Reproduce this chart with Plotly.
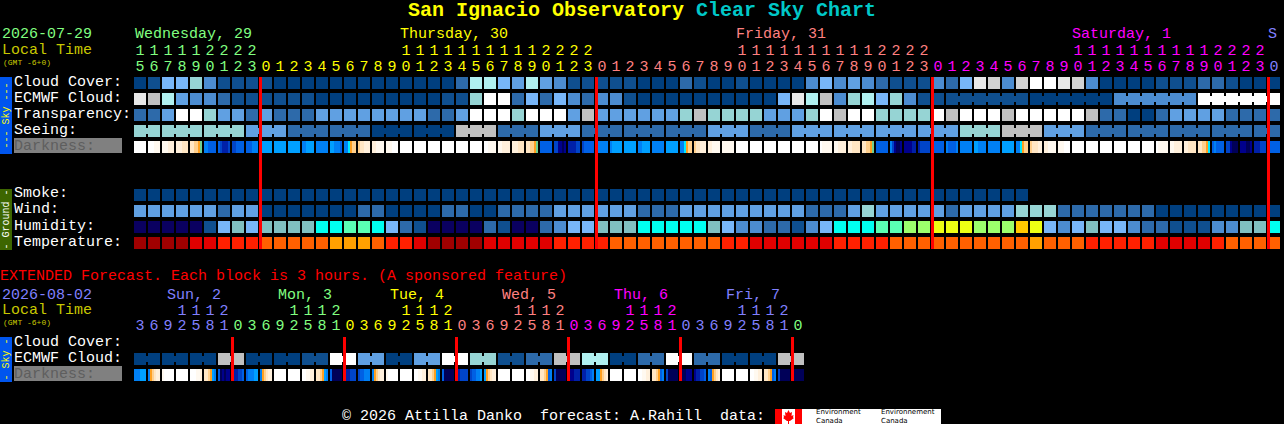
import plotly.graph_objects as go

# ---------- data ----------
SKY_COLORS = ["#003F7F", "#0F4F8F", "#2D6AAA", "#4C8CD0", "#60A0E2", "#78B6F8",
              "#96D4D4", "#B0F0F0", "#C0C0C0", "#D2D2D2", "#E8E8E8", "#FFFFFF"]
HUM_COLORS = ["#0A0060", "#0F4F8F", "#2D6AAA", "#4C8CD0", "#78B6F8", "#80C0C0",
              "#00FFF0", "#5AFFB4", "#9CFF6C", "#EDFF14", "#FFC800"]
TEMP_COLORS = ["#A00000", "#E00000", "#FF2000", "#FF6000", "#FFA000"]
DARK_COLORS = {"W": "#FFFFFF", "a": "#FFF9F0", "b": "#FFF0DC", "c": "#FFE6C4", "d": "#FFCF8C",
               "e": "#FFA020", "g": "#70D090", "t": "#00E8FF", "s": "#00A0FF", "m": "#0080F4",
               "u": "#0060E4", "v": "#0044C8", "x": "#0020A8", "y": "#00008C", "z": "#000058"}

CLOUD = [0, 1, 5, 5, 6, 3, 1, 1, 1, 1,
         0, 0, 0, 0, 0, 0, 0, 0, 0, 0, 0,
         0, 0, 2, 7, 7, 5, 4, 7, 4, 3, 1, 1,
         1, 1, 1, 0, 0, 0, 2, 1, 0, 0, 1, 0, 0, 0, 0, 3, 5, 3, 4,
         3, 2, 1, 1, 1, 3, 2, 5, 10, 9, 3, 9, 11, 11, 10, 9, 3,
         0, 0, 0, 0, 1, 1, 1, 2, 2, 1, 0, 0, 0]
ECMWF = [10, 8, 7, 4, 3, 3, 2, 1, 1, 1, 1, 1, 1,
         0, 0, 0, 0, 0, 0, 0, 0,
         0, 1, 1, 6, 11, 11, 2, 5, 2, 5, 3, 2,
         3, 3, 1, 0, 0, 0, 0, 0, 0, 0, 0, 0, 0, 5, 10, 7, 8, 3, 6,
         7, 5, 6, 3, 1, 1,
         1, 1, 1, 1, 1, 1, 0, 0, 0, 0, 0, 0, 3, 3, 3, 3, 3, 3, 11, 11, 11, 11, 11, 11]
ECMWF_BLOCKS = [1] * 58 + [6, 6, 6, 6]
TRANSPARENCY = [2, 2, 4, 11, 11, 6, 4, 4, 2, 4, 2, 2, 2,
                4, 4, 4, 4, 4, 4, 4, 4,
                2, 2, 4, 11, 11, 11, 6, 11, 11, 11, 4, 8,
                4, 4, 4, 4, 4, 4, 6, 8, 6, 6, 6, 6, 4, 4, 4, 6, 11, 8, 11,
                11, 6, 6, 6, 6, 11, 8, 11, 11, 11, 8, 11, 11, 11, 11, 11, 8,
                2, 2, 0, 0, 2, 4, 4, 4, 4, 2, 2, 2, 2]
SEEING_VALUES = [6, 6, 6, 4, 2, 2, 0, 0, 8, 2, 4, 2, 2, 2, 4, 2, 4, 4, 4, 4, 6, 8, 4, 2, 2, 2, 2, 2]
SEEING_BLOCKS = [2] + [3] * 26 + [2]
DARKNESS = ["WWWWWW", "WWWaaa", "aaabbb", "bbbccc", "ccddeg", "mmuuuu", "uvxxxv", "vvuuuu", "uuummm",
            "ssssss", "ssssss", "ssssss", "mmssss", "mmmmmm", "ssmmmu", "mmtedd", "dccbbb", "bbaaaa",
            "aaaWWW", "WWWWWW", "WWWWWW", "WWWWWW", "WWWWWW", "WWWWWW", "WWWWWW", "WWaaaa", "aabbbb",
            "bbbccc", "ccddeg", "uuuuuu", "vvyyzy", "xxxxvv", "vuuuuu",
            "mmmmmm", "msssss", "ssssss", "mmssss", "mmmmmm", "ssssss", "mmtedd", "dccbbb", "bbaaaa",
            "aaaaaa", "WWWWWW", "WWWWWW", "WWWWWW", "WWWWWW", "WWWWWW", "WWWWWW", "Waaaaa", "aabbbb",
            "bbcccc", "ccddeg", "uuuuuu", "mvyzzy", "yyyyxx", "xvvvvv",
            "uuuuuu", "muuuum", "mmmmmm", "ssmmmm", "mmmmmm", "ssssss", "mmtedd", "dcccbb", "bbaaaa",
            "aaaWWW", "WWWWWW", "WWWWWW", "WWWWWW", "WWWWWW", "WWWWWW", "WWWWWW",
            "Waaaaa", "aabbbb", "bbcccc", "ccddet", "umuuuu", "vvyzzz", "yyyzzy", "xxxvvv", "vuuuuu"]
SMOKE = [0] * 64
WIND = [4, 4, 4, 4, 4, 4, 2, 4, 4, 0, 0, 0, 0, 0, 0, 0, 2, 2, 0, 0, 0, 0,
        2, 2, 0, 0, 2, 2, 2, 2, 4, 4, 4, 4, 4, 4, 2, 2, 2, 4, 4, 4, 4, 4, 4, 4, 4, 4, 2, 2, 2, 4,
        6, 4, 4, 4, 4, 4, 2, 4, 4, 4, 4, 6, 6, 6, 2, 2, 2, 2, 2, 2, 2, 0, 0, 0, 0, 0, 0, 0, 0, 0]
HUMIDITY = [0, 0, 0, 0, 0, 1, 4, 5, 4, 5, 5, 5, 5, 6, 6, 7, 7, 6, 4, 2, 1,
            0, 0, 0, 0, 2, 1, 0, 0, 2, 3, 4, 4, 5, 5, 5, 6, 6, 6, 6, 6, 5, 4, 3, 3, 2, 2, 1, 3, 4, 6, 6,
            6, 7, 7, 8, 8, 9, 9, 9, 8, 8, 8, 10, 9, 4, 3, 4, 5, 4, 4, 3, 2, 2, 1, 1, 1, 3, 3, 5, 5, 6]
TEMPERATURE = [0, 0, 0, 0, 1, 1, 2, 2, 2, 3, 3, 3, 3, 3, 4, 4, 4, 3, 2, 2, 1,
               0, 0, 0, 0, 1, 1, 1, 1, 1, 2, 2, 2, 2, 3, 3, 3, 3, 3, 3, 3, 3, 2, 2, 1, 1, 1, 1, 1, 1, 2, 2,
               2, 2, 3, 3, 3, 3, 3, 3, 3, 3, 3, 3, 4, 3, 3, 3, 2, 2, 2, 2, 2, 1, 1, 1, 1, 2, 3, 3, 3, 3]
HOURS = [15, 16, 17, 18, 19, 20, 21, 22, 23] + list(range(24)) * 3 + [0]
DAY_COLORS = ["#80FF80", "#FFFF00", "#FF8080", "#FF00FF", "#8080FF"]
HOUR_DAY = [0] * 9 + [1] * 24 + [2] * 24 + [3] * 24 + [4]
DAY_LABELS = ["Wednesday, 29", "Thursday, 30", "Friday, 31", "Saturday, 1", "S"]
DAY_LABEL_COLS = [0, 19, 43, 67, 81]
MIDNIGHT_COLS = [9, 33, 57, 81]

EXT_ECMWF = [0, 0, 0, 8, 0, 0, 1, 11, 4, 0, 4, 11, 6, 1, 2, 8, 7, 0, 2, 11, 2, 0, 0, 8]
EXT_DARKNESS = ["mmmsss", "medcbb", "aWWWWW", "WWWWWW", "WWWaab", "ccdesm", "uzyzyy", "yxxvvu",
                "ummmss", "medcbb", "WWWWWW", "WWWWWW", "WWaabb", "ccdesm", "uzzzzz", "zxxvvv",
                "vuummm", "medcbb", "aWWWWW", "WWWWWW", "WWaabb", "ccdesm", "uzzzzz", "xxvvvv",
                "vuumms", "sedcbb", "WWWWWW", "WWWWWW", "WWaabb", "ccdeum", "vzzzzz", "zyyxxx",
                "xxvvum", "ssedcb", "WWWWWW", "WWWWWW", "WWaabb", "ccdeum", "vzzzzz", "zzzyyy",
                "yxxvvu", "muedcb", "WWWWWW", "WWWWWW", "WWaabb", "ccdeum", "vzzzzz", "zzzzzz"]
EXT_HOURS = [3, 6, 9, 12, 15, 18, 21] + [0, 3, 6, 9, 12, 15, 18, 21] * 5 + [0]
EXT_HOUR_DAY = [4] * 7 + [0] * 8 + [1] * 8 + [2] * 8 + [3] * 8 + [4] * 8 + [0]
EXT_DAY_LABELS = ["Sun, 2", "Mon, 3", "Tue, 4", "Wed, 5", "Thu, 6", "Fri, 7"]
EXT_DAY_LABEL_COLS = [2.36, 10.3, 18.3, 26.3, 34.3, 42.3]
EXT_DAY_COLORS = ["#8080FF", "#80FF80", "#FFFF00", "#FF8080", "#FF00FF", "#8080FF"]
EXT_MIDNIGHT_COLS = [7, 15, 23, 31, 39, 47]

SKY_LABELS = ["Cloud Cover:", "ECMWF Cloud:", "Transparency:", "Seeing:"]
GROUND_LABELS = ["Smoke:", "Wind:", "Humidity:", "Temperature:"]
FOOTER = "\u00a9 2026 Attilla Danko\u00a0\u00a0forecast: A.Rahill\u00a0\u00a0data:"

for name, arr in [("CLOUD", CLOUD), ("ECMWF", ECMWF), ("TRANSPARENCY", TRANSPARENCY), ("DARKNESS", DARKNESS),
                  ("WIND", WIND), ("HUMIDITY", HUMIDITY), ("TEMPERATURE", TEMPERATURE), ("HOURS", HOURS)]:
    assert len(arr) == 82, (name, len(arr))
assert sum(SEEING_BLOCKS) == 82 and len(SEEING_VALUES) == len(SEEING_BLOCKS)
assert len(EXT_DARKNESS) == 48 and len(EXT_HOURS) == 48 and len(EXT_HOUR_DAY) == 48

# ---------- geometry (14 px per column, 16 px per row) ----------
W, H = 1284, 424
MONO = "Liberation Mono"
CELL = 12 / 14
GAP = 2 / 14
BAR_H = 12 / 16
NECK_H = 6 / 16


def row_y(py):
    return (py - 83) / 16


R_EXT_ECMWF, R_EXT_DARK = row_y(359), row_y(375)
fig = go.Figure()


def add_bar(xs, colors, row, width, height):
    fig.add_trace(go.Bar(x=xs, y=[height] * len(xs), base=[row - height / 2] * len(xs), width=width,
                         marker=dict(color=colors, line=dict(width=0)), hoverinfo="skip", showlegend=False))


def add_cells(row, levels, palette):
    add_bar(list(range(len(levels))), [palette[v] for v in levels], row, CELL, BAR_H)


def add_blocks(row, values, blocks, palette):
    """values per cell; necks join the cells that belong to one forecast block."""
    xs, cols, i = [], [], 0
    for n in blocks:
        for k in range(n - 1):
            xs.append(i + k + 0.5)
            cols.append(palette[values[i + k]])
        i += n
    add_bar(list(range(len(values))), [palette[v] for v in values], row, CELL, BAR_H)
    if xs:
        add_bar(xs, cols, row, GAP, NECK_H)


def add_dark(row, strips):
    xs, cols = [], []
    for i, s in enumerate(strips):
        for k, ch in enumerate(s):
            xs.append(i - 5 / 14 + k * GAP)
            cols.append(DARK_COLORS[ch])
    add_bar(xs, cols, row, GAP, BAR_H)


add_cells(0, CLOUD, SKY_COLORS)
add_blocks(1, ECMWF, ECMWF_BLOCKS, SKY_COLORS)
add_cells(2, TRANSPARENCY, SKY_COLORS)
seeing_cells = [v for v, n in zip(SEEING_VALUES, SEEING_BLOCKS) for _ in range(n)]
add_blocks(3, seeing_cells, SEEING_BLOCKS, SKY_COLORS)
add_dark(4, DARKNESS)
add_cells(7, SMOKE, SKY_COLORS)
add_cells(8, WIND, SKY_COLORS)
add_cells(9, HUMIDITY, HUM_COLORS)
add_cells(10, TEMPERATURE, TEMP_COLORS)
ext_cells = [v for v in EXT_ECMWF for _ in range(2)]
add_blocks(R_EXT_ECMWF, ext_cells, [2] * 24, SKY_COLORS)
add_dark(R_EXT_DARK, EXT_DARKNESS)


def add_midnights(cols, top, bottom):
    n = len(cols)
    fig.add_trace(go.Bar(x=[c - 3 / 7 for c in cols], y=[bottom - top] * n, base=[top] * n, width=3 / 14,
                         marker=dict(color="#FF0000", line=dict(width=0)), hoverinfo="skip", showlegend=False))


add_midnights(MIDNIGHT_COLS, row_y(77), row_y(249))
add_midnights(EXT_MIDNIGHT_COLS, row_y(337), row_y(381))


def add_digits(hours, days, py_tens, py_ones):
    cols = [DAY_COLORS[d] for d in days]
    xs = list(range(len(hours)))
    tx = [i for i, h in zip(xs, hours) if h >= 10]
    fig.add_trace(go.Scatter(x=tx, y=[row_y(py_tens)] * len(tx), mode="text",
                             text=[str(hours[i] // 10) for i in tx],
                             textfont=dict(family=MONO, size=15, color=[cols[i] for i in tx]),
                             hoverinfo="skip", showlegend=False))
    fig.add_trace(go.Scatter(x=xs, y=[row_y(py_ones)] * len(xs), mode="text",
                             text=[str(h % 10) for h in hours],
                             textfont=dict(family=MONO, size=15, color=cols),
                             hoverinfo="skip", showlegend=False))


add_digits(HOURS, HOUR_DAY, 51, 67)
add_digits(EXT_HOURS, EXT_HOUR_DAY, 311, 326)

# ---------- text and furniture in page pixels ----------
ann, shp = [], []


def text(x, y, s, color="#FFFFFF", size=15, bold=False, anchor="left", angle=0, family=MONO):
    ann.append(dict(xref="paper", yref="paper", x=x / W, y=1 - y / H, text=f"<b>{s}</b>" if bold else s,
                    showarrow=False, xanchor=anchor, yanchor="middle", borderpad=0, borderwidth=0, align="left",
                    textangle=angle, font=dict(family=family, size=size, color=color)))


def rect(x0, y0, x1, y1, color):
    shp.append(dict(type="rect", xref="paper", yref="paper", x0=x0 / W, x1=x1 / W, y0=1 - y0 / H, y1=1 - y1 / H,
                    fillcolor=color, line=dict(width=0), layer="below"))


text(408, 11, "San Ignacio Observatory", "#FFFF00", 20, True)
text(696, 11, "Clear Sky Chart", "#00C8C8", 20, True)

text(2, 35, "2026-07-29", "#80FF80")
text(2, 50, "Local Time", "#C8C800")
text(3, 62, "(GMT -6+0)", "#C8C800", 8)
for lab, col, day in zip(DAY_LABELS, DAY_LABEL_COLS, DAY_COLORS):
    text(134 + 14 * col + (1 if col == 0 else 0), 35, lab, day)

rect(0, 77, 12, 154, "#0055EE")
text(6, 115.5, "--- Sky ---", "#FFFF00", 10, angle=-90, anchor="center")
for i, lab in enumerate(SKY_LABELS):
    text(14, 82 + 16 * i, lab)
rect(14, 138, 122, 153, "#808080")
text(14, 146, "Darkness:", "#5E5E5E")

rect(0, 189, 12, 250, "#3D6600")
text(6, 219.5, "- Ground -", "#FFFFFF", 10, angle=-90, anchor="center")
for i, lab in enumerate(GROUND_LABELS):
    text(14, 194 + 16 * i, lab)

text(0, 276, "EXTENDED Forecast. Each block is 3 hours. (A sponsored feature)", "#FF0000")
text(2, 295, "2026-08-02", "#8080FF")
text(2, 310, "Local Time", "#C8C800")
text(3, 322, "(GMT -6+0)", "#C8C800", 8)
for lab, col, color in zip(EXT_DAY_LABELS, EXT_DAY_LABEL_COLS, EXT_DAY_COLORS):
    text(134 + 14 * col, 295, lab, color)

rect(0, 337, 12, 382, "#0055EE")
text(6, 359.5, "- Sky -", "#FFFF00", 10, angle=-90, anchor="center")
text(14, 342, "Cloud Cover:")
text(14, 358, "ECMWF Cloud:")
rect(14, 366, 122, 381, "#808080")
text(14, 374, "Darkness:", "#5E5E5E")

text(342, 416, FOOTER)

# government logo strip
rect(775, 409, 941, 424, "#FFFFFF")
rect(775, 409, 782, 424, "#FF0000")
rect(795, 409, 802, 424, "#FF0000")
leaf = [(788.5, 410), (790, 413), (792, 412), (791.5, 416), (793.5, 415), (793, 417.5), (794, 418),
        (790, 421), (789, 421), (789, 424), (788, 424), (788, 421), (787, 421), (783, 418), (784, 417.5),
        (783.5, 415), (785.5, 416), (785, 412), (787, 413)]
shp.append(dict(type="path", xref="paper", yref="paper",
                path="M " + " L ".join(f"{x / W:.5f},{1 - y / H:.5f}" for x, y in leaf) + " Z",
                fillcolor="#FF0000", line=dict(width=0), layer="below"))
SANS = "DejaVu Sans"
text(816, 416, "Environment<br>Canada", "#000000", 7, family=SANS)
text(881, 416, "Environnement<br>Canada", "#000000", 7, family=SANS)

fig.update_layout(
    width=W, height=H, margin=dict(l=0, r=0, t=0, b=0), autosize=False,
    paper_bgcolor="#000000", plot_bgcolor="#000000",
    barmode="overlay", hovermode=False, showlegend=False, bargap=0,
    xaxis=dict(range=[-140 / 14, (W - 140) / 14], visible=False, fixedrange=True),
    yaxis=dict(range=[(H - 83) / 16, -83 / 16], visible=False, fixedrange=True),
    annotations=ann, shapes=shp,
)
fig.write_html("out.html", config={"displayModeBar": False},
               post_script="document.body.style.margin='0';document.body.style.background='#000';")
